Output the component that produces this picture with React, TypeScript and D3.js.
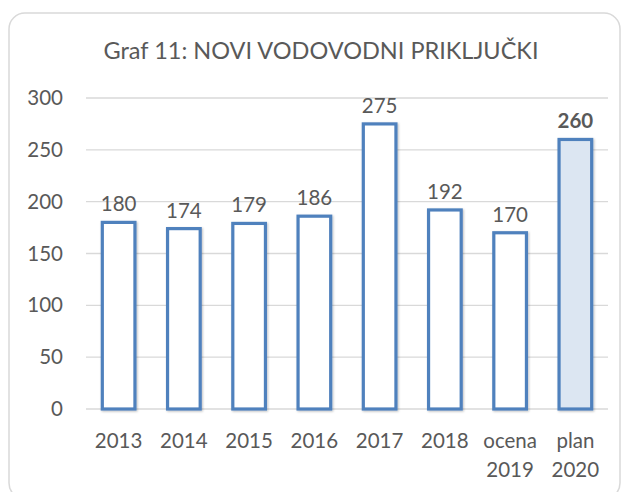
import React from 'react';
import * as d3 from 'd3';

const categories = ['2013', '2014', '2015', '2016', '2017', '2018', 'ocena\n2019', 'plan\n2020'];
const values = [180, 174, 179, 186, 275, 192, 170, 260];
const highlighted = [false, false, false, false, false, false, false, true];
const yTicks = [0, 50, 100, 150, 200, 250, 300];

const W = 621;
const H = 492;
const margin = { top: 98, right: 13, bottom: 83, left: 86 };
const font = 'Lato, "Open Sans", sans-serif';
const grey = '#595959';

const App = () => {
  const x = d3.scaleBand<string>()
    .domain(categories)
    .range([margin.left, W - margin.right])
    .paddingInner(0.5)
    .paddingOuter(0.25);

  const y = d3.scaleLinear()
    .domain([0, 300])
    .range([H - margin.bottom, margin.top]);

  return (
    <svg width={W} height={H} style={{ position: 'absolute', left: 0, top: 0 }}>
      <defs>
        <filter id="shadow" x="-20%" y="-5%" width="140%" height="110%">
          <feDropShadow dx="1" dy="1" stdDeviation="1.2" floodColor="#000" floodOpacity="0.25" />
        </filter>
      </defs>
      <rect x={9} y={13} width={611} height={486} rx={16} fill="#fff" stroke="#d9d9d9" strokeWidth={1.5} />
      <text x={321} y={59} textAnchor="middle" fontFamily={font} fontSize={23.5} fill={grey}>
        Graf 11: NOVI VODOVODNI PRIKLJUČKI
      </text>

      {yTicks.map(t => (
        <g key={t}>
          <line x1={margin.left} x2={W - margin.right} y1={y(t)} y2={y(t)} stroke="#d9d9d9" strokeWidth={1.3} />
          <text x={63} y={y(t) + 7} textAnchor="end" fontFamily={font} fontSize={20.5} fill={grey}>{t}</text>
        </g>
      ))}

      {categories.map((c, i) => {
        const bx = x(c)!;
        const bw = x.bandwidth();
        const top = y(values[i]);
        const cx = bx + bw / 2;
        return (
          <g key={c}>
            <rect
              x={bx}
              y={top}
              width={bw}
              height={y(0) - top}
              fill={highlighted[i] ? '#dce6f2' : '#fff'}
              stroke="#4f81bd"
              strokeWidth={3.2}
              filter="url(#shadow)"
            />
            <text x={cx} y={top - 11} textAnchor="middle" fontFamily={font} fontSize={20.5}
              fontWeight={highlighted[i] ? 'bold' : 'normal'} fill={grey}>{values[i]}</text>
            {c.split('\n').map((line, j) => (
              <text key={j} x={cx} y={448 + j * 29} textAnchor="middle" fontFamily={font} fontSize={20.5} fill={grey}>
                {line}
              </text>
            ))}
          </g>
        );
      })}
    </svg>
  );
};

export default App;
